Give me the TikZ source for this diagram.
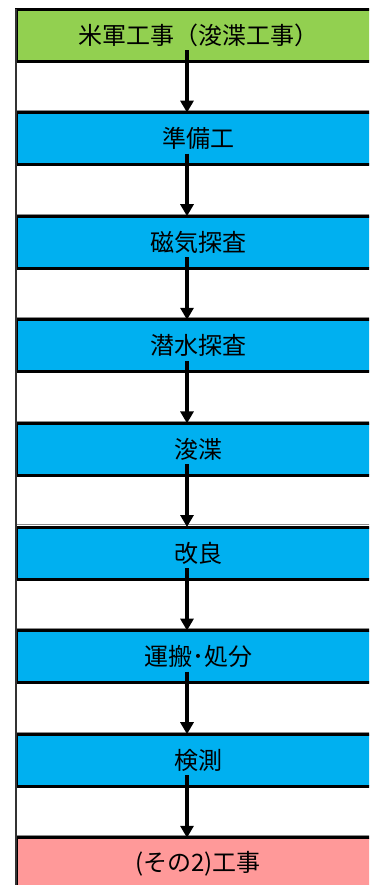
\documentclass[tikz,border=0pt]{standalone}
\usepackage{fontspec}
\setmainfont{Noto Sans CJK JP}
\usetikzlibrary{arrows.meta,positioning}
\definecolor{stagegreen}{HTML}{92D050}
\definecolor{stageblue}{HTML}{00B0F0}
\definecolor{stagepink}{HTML}{FF9999}
\tikzset{stage/.style={
    rectangle,minimum width=273pt,minimum height=39pt,
    inner sep=0pt,outer sep=0pt,
    line width=2.25pt,draw=black,fill=stageblue,
    font=\fontsize{18pt}{21pt}\selectfont}}
\tikzset{flow/.style={line width=3pt,-{Triangle[width=9.75pt,length=9pt]}}}
\tikzset{gridline/.style={line width=0.75pt,draw=black!45}}

\begin{document}
\begin{tikzpicture}[x=0.75pt,y=0.75pt,node distance=38.7pt]
\useasboundingbox (0,0) rectangle (369,-885);
\clip (0,0) rectangle (369,-885);

  \node (usarmy)  [stage,fill=stagegreen] at (198,-35) {米軍工事（浚渫工事）};
  \node (prep)    [stage,below=of usarmy]   {準備工};
  \node (magnet)  [stage,below=of prep]     {磁気探査};
  \node (diver)   [stage,below=of magnet]   {潜水探査};
  \node (dredge)  [stage,below=of diver]    {浚渫};
  \node (improve) [stage,below=of dredge]   {改良};
  \node (haul)    [stage,below=of improve]  {運搬･処分};
  \node (inspect) [stage,below=of haul]     {検測};
  \node (part2)   [stage,fill=stagepink,below=of inspect] {(その2)工事};

% cell grid lines
\foreach \n in {prep,magnet,diver,dredge,improve,haul,inspect,part2}
  \draw [gridline] ([yshift=1.6pt]\n.north west) -- ([yshift=1.6pt]\n.north east);
\draw [line width=1.2pt,draw=black!80] (usarmy.north west) -- ++(0,-900);

\draw [flow] ([xshift=-8.25pt,yshift=8.25pt]usarmy.south) -- ([xshift=-8.25pt]prep.north);
\draw [flow] ([xshift=-8.25pt,yshift=8.25pt]prep.south) -- ([xshift=-8.25pt]magnet.north);
\draw [flow] ([xshift=-8.25pt,yshift=8.25pt]magnet.south) -- ([xshift=-8.25pt]diver.north);
\draw [flow] ([xshift=-8.25pt,yshift=8.25pt]diver.south) -- ([xshift=-8.25pt]dredge.north);
\draw [flow] ([xshift=-8.25pt,yshift=8.25pt]dredge.south) -- ([xshift=-8.25pt]improve.north);
\draw [flow] ([xshift=-8.25pt,yshift=8.25pt]improve.south) -- ([xshift=-8.25pt]haul.north);
\draw [flow] ([xshift=-8.25pt,yshift=8.25pt]haul.south) -- ([xshift=-8.25pt]inspect.north);
\draw [flow] ([xshift=-8.25pt,yshift=8.25pt]inspect.south) -- ([xshift=-8.25pt]part2.north);

\end{tikzpicture}
\end{document}
